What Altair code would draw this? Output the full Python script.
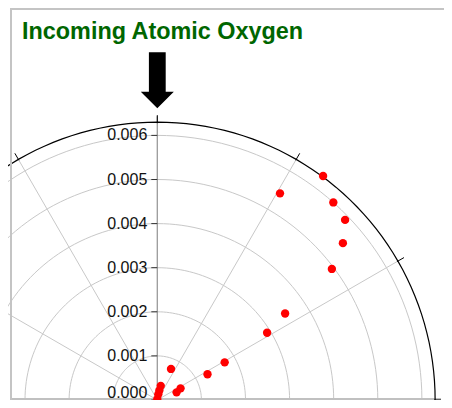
import altair as alt
import numpy as np
import pandas as pd

# ---------------- data ----------------
title_text = "Incoming Atomic Oxygen"
# angle measured clockwise from the incoming (vertical) direction, degrees
point_angle_deg = [36.5, 30.7, 41.7, 46.2, 49.8, 53.1, 55.9, 58.5, 60.8, 62.8,
                   23.8, 63.4, 68.4, 13.7, 12.1, 10.0, 0.0]
point_radius = [0.00632, 0.00545, 0.00600, 0.00590, 0.00551, 0.00495, 0.00350,
                0.00292, 0.00175, 0.00128, 0.00077, 0.00059, 0.00047, 0.00033,
                0.00022, 0.00013, 0.00002]
ring_values = [0.001, 0.002, 0.003, 0.004, 0.005, 0.006]
radial_tick_values = [0.0, 0.001, 0.002, 0.003, 0.004, 0.005, 0.006]
radial_tick_labels = ["0.000", "0.001", "0.002", "0.003", "0.004", "0.005", "0.006"]
spoke_angles = [30, 60, 120, 150, 180, 210, 240, 300, 330]
outer_tick_angles = [0, 30, 60, 90, 120, 150, 180, 210, 240, 270, 300, 330]
outer_radius = 0.0063

# ---------------- geometry of the view ----------------
W, H = 436, 392
PX = 44100.0                      # pixels per data unit
cx_px, cy_px = 149.3, 392.0       # centre inside plot area
xmin = -cx_px / PX
xmax = xmin + W / PX
ymax = cy_px / PX
ymin = ymax - H / PX

xs = alt.Scale(domain=[xmin, xmax], nice=False, zero=False)
ys = alt.Scale(domain=[ymin, ymax], nice=False, zero=False)
X = lambda f: alt.X(f, type="quantitative", scale=xs, axis=None)
Y = lambda f: alt.Y(f, type="quantitative", scale=ys, axis=None)

one = pd.DataFrame({"a": [0]})

# frame: only its top and left edges fall inside the page
frame = alt.Chart(one).mark_rect(fill="transparent", stroke="#c4c4c4", strokeWidth=2).encode(
    x=alt.value(3), x2=alt.value(W + 20), y=alt.value(1), y2=alt.value(H + 20))

# white strip along the right edge of the page
edge_mask = alt.Chart(one).mark_rect(fill="#ffffff", strokeWidth=0).encode(
    x=alt.value(W - 3), x2=alt.value(W + 6), y=alt.value(2.2), y2=alt.value(H + 6))

# grid rings
deg_steps = list(range(0, 362, 2))
rings_df = pd.DataFrame([(r, d) for r in ring_values for d in deg_steps], columns=["r", "deg"])
rings = alt.Chart(rings_df).transform_calculate(
    x="datum.r*sin(datum.deg*PI/180)", y="datum.r*cos(datum.deg*PI/180)"
).mark_line(color="#c8c8c8", strokeWidth=1, clip=True).encode(
    x=X("x"), y=Y("y"), detail="r:N", order="deg:Q")

outer_df = pd.DataFrame({"r": [outer_radius] * len(deg_steps), "deg": deg_steps})
outer = alt.Chart(outer_df).transform_calculate(
    x="datum.r*sin(datum.deg*PI/180)", y="datum.r*cos(datum.deg*PI/180)"
).mark_line(color="#000000", strokeWidth=1.2, clip=True).encode(
    x=X("x"), y=Y("y"), order="deg:Q")

# spokes
spokes = alt.Chart(pd.DataFrame({"deg": spoke_angles})).transform_calculate(
    x0="0", y0="0",
    x1=f"{outer_radius}*sin(datum.deg*PI/180)", y1=f"{outer_radius}*cos(datum.deg*PI/180)"
).mark_rule(color="#c8c8c8", strokeWidth=1, clip=True).encode(
    x=X("x0"), y=Y("y0"), x2="x1:Q", y2="y1:Q")

# vertical (incoming) axis
vline = alt.Chart(pd.DataFrame({"x": [0.0], "y0": [0.0], "y1": [outer_radius + 6 / PX]})).mark_rule(
    color="#9a9a9a", strokeWidth=1.3, clip=True).encode(
    x=X("x"), y=Y("y0"), y2="y1:Q")

# horizontal base line
hline = alt.Chart(pd.DataFrame({"x0": [xmin + 3 / PX], "x1": [xmax], "y": [1 / PX]})).mark_rule(
    color="#c0c0c0", strokeWidth=2, clip=True).encode(
    x=X("x0"), x2="x1:Q", y=Y("y"))

# ticks on outer circle
r_in, r_out = outer_radius - 1 / PX, outer_radius + 7 / PX
otick = alt.Chart(pd.DataFrame({"deg": outer_tick_angles})).transform_calculate(
    xa=f"{r_in}*sin(datum.deg*PI/180)", ya=f"{r_in}*cos(datum.deg*PI/180)",
    xb=f"{r_out}*sin(datum.deg*PI/180)", yb=f"{r_out}*cos(datum.deg*PI/180)"
).mark_rule(color="#000000", strokeWidth=1, clip=True).encode(
    x=X("xa"), y=Y("ya"), x2="xb:Q", y2="yb:Q")

# radial axis ticks and labels
lab_df = pd.DataFrame({"v": radial_tick_values, "label": radial_tick_labels,
                       "x0": [-6 / PX] * 7, "x1": [0.0] * 7})
ltick = alt.Chart(lab_df).mark_rule(color="#333333", strokeWidth=1, clip=True).encode(
    x=X("x0"), x2="x1:Q", y=Y("v"))
labels = alt.Chart(lab_df).transform_filter("datum.v > 0").mark_text(
    align="right", baseline="middle", dx=-10, font="Liberation Sans", fontSize=16,
    color="#111111").encode(
    x=X("x1"), y=Y("v"), text="label:N")
label0 = alt.Chart(lab_df).transform_filter("datum.v == 0").mark_text(
    align="right", baseline="bottom", dx=-10, dy=1, font="Liberation Sans", fontSize=16,
    color="#111111").encode(
    x=X("x1"), y=Y("v"), text="label:N")

# data points
pts = alt.Chart(pd.DataFrame({"deg": point_angle_deg, "r": point_radius})).transform_calculate(
    x="datum.r*sin(datum.deg*PI/180)", y="datum.r*cos(datum.deg*PI/180)"
).mark_circle(color="#ff0000", opacity=1, size=70, clip=True).encode(x=X("x"), y=Y("y"))

# arrow showing incoming direction
arrow_path = "M-0.3,-1 L0.3,-1 L0.3,0.41 L0.59,0.41 L0,1 L-0.59,0.41 L-0.3,0.41 Z"
arrow = alt.Chart(pd.DataFrame({"x": [0.0], "y": [(400 - 80.3) / PX]})).mark_point(
    shape=arrow_path, filled=True, color="#000000", opacity=1, size=3136, strokeWidth=0).encode(
    x=X("x"), y=Y("y"))

title = alt.Chart(pd.DataFrame({"t": [title_text]})).mark_text(
    align="left", baseline="alphabetic", font="Liberation Sans", fontSize=23.4,
    fontWeight="bold", color="#006600").encode(
    x=alt.value(14), y=alt.value(31), text="t:N")

chart = alt.layer(
    rings, spokes, vline, hline, outer, otick, ltick, labels, label0, pts, arrow,
    frame, edge_mask, title
).properties(
    width=W, height=H, padding=0, autosize=alt.AutoSizeParams(type="none")
).configure_view(stroke="transparent", strokeWidth=0)

chart.save("out.html", embed_options={"renderer": "svg", "actions": False})
